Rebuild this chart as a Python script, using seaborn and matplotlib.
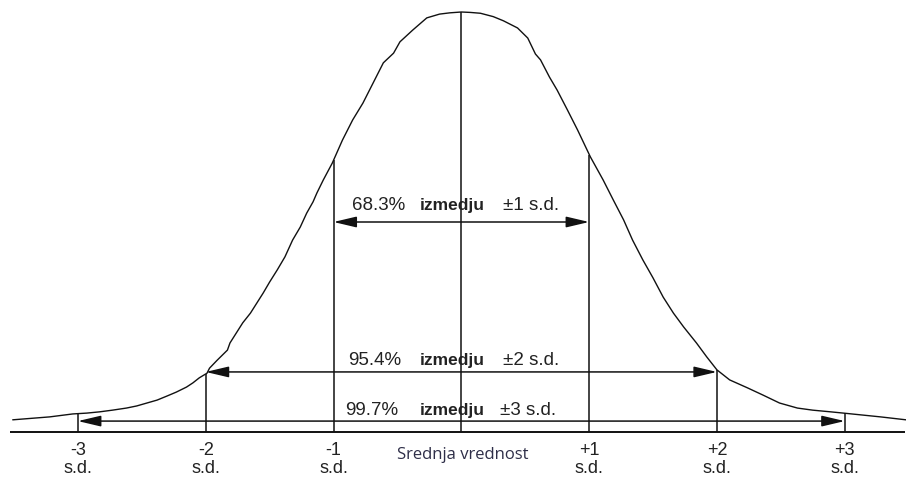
import matplotlib
matplotlib.use("Agg")
import matplotlib.pyplot as plt
import pandas as pd
import seaborn as sns

# Bell curve, x in standard deviations from the mean, y as height relative to the peak
curve_x = [-3.51, -3.22, -3.04, -2.93, -2.83, -2.73, -2.62, -2.54, -2.46, -2.38,
           -2.30, -2.23, -2.15, -2.10, -2.05, -1.99, -1.97, -1.91, -1.83, -1.81,
           -1.76, -1.71, -1.65, -1.60, -1.55, -1.50, -1.44, -1.38, -1.32, -1.26,
           -1.21, -1.16, -1.13, -1.08, -1.01, -0.93, -0.85, -0.77, -0.69, -0.61,
           -0.53, -0.48, -0.38, -0.27, -0.17, -0.09, 0.00, 0.07, 0.15, 0.25,
           0.33, 0.44, 0.52, 0.58, 0.62, 0.69, 0.75, 0.83, 0.91, 1.01,
           1.11, 1.19, 1.27, 1.34, 1.42, 1.50, 1.58, 1.66, 1.74, 1.84,
           1.92, 2.00, 2.10, 2.24, 2.36, 2.49, 2.63, 2.75, 2.89, 2.99,
           3.28, 3.48]
curve_y = [0.029, 0.036, 0.043, 0.045, 0.048, 0.052, 0.057, 0.062, 0.069, 0.076,
           0.086, 0.095, 0.107, 0.117, 0.129, 0.140, 0.152, 0.171, 0.195, 0.212,
           0.236, 0.260, 0.283, 0.307, 0.331, 0.357, 0.386, 0.417, 0.457, 0.488,
           0.521, 0.548, 0.569, 0.600, 0.640, 0.695, 0.743, 0.783, 0.831, 0.879,
           0.902, 0.929, 0.957, 0.986, 0.995, 0.998, 1.000, 0.999, 0.997, 0.989,
           0.979, 0.962, 0.938, 0.900, 0.886, 0.845, 0.814, 0.767, 0.719, 0.655,
           0.600, 0.552, 0.505, 0.457, 0.410, 0.367, 0.321, 0.283, 0.250, 0.212,
           0.179, 0.148, 0.124, 0.105, 0.088, 0.069, 0.057, 0.052, 0.048, 0.045,
           0.036, 0.029]

# Standard-deviation markers and where each one meets the curve
sd_marks = [-3, -2, -1, 0, 1, 2, 3]
mark_heights = [0.044, 0.138, 0.648, 1.000, 0.660, 0.148, 0.045]
tick_labels = ["-3", "-2", "-1", "", "+1", "+2", "+3"]
mean_label = "Srednja vrednost"

# Coverage intervals
spans = [1, 2, 3]
span_levels = [0.500, 0.143, 0.026]
pct_labels = ["68.3%", "95.4%", "99.7%"]
span_labels = ["\u00b11 s.d.", "\u00b12 s.d.", "\u00b13 s.d."]
between_word = "izmedju"

sns.set_style("white")
plt.rcParams["font.family"] = ["Liberation Sans", "DejaVu Sans"]

fig = plt.figure(figsize=(9.06, 4.80), dpi=100)
ax = fig.add_axes([0, 0, 1, 1])

ink = "#111111"
curve = pd.DataFrame({"sd": curve_x, "height": curve_y})
sns.lineplot(data=curve, x="sd", y="height", sort=False, color=ink,
             lw=1.0, ax=ax, legend=False)

# Baseline
ax.plot([-3.53, 3.47], [0, 0], color=ink, lw=1.4, solid_capstyle="butt")

# Vertical markers up to the curve
ax.vlines(sd_marks, 0, mark_heights, color=ink, lw=1.1)

# Double-headed interval arrows
for s, lvl in zip(spans, span_levels):
    ax.annotate("", xy=(-s, lvl), xytext=(s, lvl),
                arrowprops=dict(arrowstyle="<|-|>,head_length=1.4,head_width=0.33",
                                color=ink, lw=1.1, shrinkA=0, shrinkB=0))

# Interval captions
text_base = [0.529, 0.160, 0.040]
pct_left = [-0.855, -0.887, -0.910]
sd_left = [0.326, 0.326, 0.303]
for i in range(3):
    ax.text(pct_left[i], text_base[i], pct_labels[i], ha="left", va="baseline",
            fontsize=13.5, color="#222222")
    ax.text(-0.323, text_base[i], between_word, ha="left", va="baseline",
            fontsize=12.5, fontweight="bold", color="#222222")
    ax.text(sd_left[i], text_base[i], span_labels[i], ha="left", va="baseline",
            fontsize=13.5, color="#222222")

# Axis labels under each marker
for s, lab in zip(sd_marks, tick_labels):
    if not lab:
        continue
    ax.text(s, -0.055, lab, ha="center", va="baseline", fontsize=13, color="#222222")
    ax.text(s, -0.098, "s.d.", ha="center", va="baseline", fontsize=13, color="#222222")

ax.text(0.01, -0.064, mean_label, ha="center", va="baseline", fontsize=12,
        family=["Open Sans", "DejaVu Sans"], color="#2e2e48")

ax.set_xlim(-461.3 / 127.8, (906 - 461.3) / 127.8)
ax.set_ylim(-48 / 420, 432 / 420)
ax.axis("off")

fig.savefig("out.png", dpi=100, facecolor="white")
